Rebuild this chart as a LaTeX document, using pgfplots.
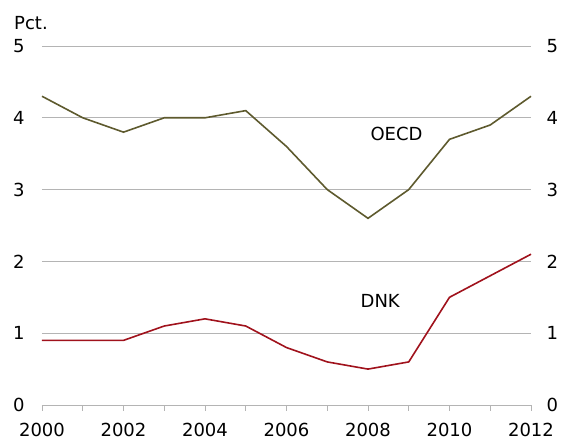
\documentclass[border=0pt]{standalone}
\usepackage{pgfplots}
\pgfplotsset{compat=1.18}
\usepackage{fontspec}
\setmainfont{DejaVu Sans}
\definecolor{oecd}{HTML}{5E5A2E}
\definecolor{dnk}{HTML}{A0121C}
\definecolor{gridc}{HTML}{B4B4B4}
\pgfplotstableread{
year oecd dnk
2000 4.3 0.9
2001 4.0 0.9
2002 3.8 0.9
2003 4.0 1.1
2004 4.0 1.2
2005 4.1 1.1
2006 3.6 0.8
2007 3.0 0.6
2008 2.6 0.5
2009 3.0 0.6
2010 3.7 1.5
2011 3.9 1.8
2012 4.3 2.1
}\data
\begin{document}
\begin{tikzpicture}
\pgfplotsset{
  base/.style={
    scale only axis, width=489pt, height=359pt,
    xmin=2000, xmax=2012, ymin=0, ymax=5,
    ytick={0,1,2,3,4,5},
    /pgf/number format/assume math mode=true,
    tick label style={font=\fontsize{18}{20}\selectfont, text=black},
    axis line style={draw=none},
  }
}
\begin{axis}[base, name=ax,
  xtick={2000,2002,...,2012},
  minor xtick={2001,2003,...,2011},
  xticklabel style={/pgf/number format/1000 sep={}},
  x tick style={draw=gridc, line width=0.8pt},
  minor x tick style={draw=gridc, line width=0.8pt},
  major tick length=6pt, minor tick length=6pt,
  xtick pos=bottom, xtick align=outside,
  ytick pos=left, y tick style={draw=none},
  yticklabel style={anchor=east, xshift=-14pt},
  xticklabel style={yshift=-9pt},
  ymajorgrids, grid style={draw=gridc, line width=0.8pt},
  clip=false,
]
\draw[gridc, line width=0.8pt] (axis cs:2000,0) -- (axis cs:2012,0);
\addplot[oecd, line width=1.6pt] table[x=year, y=oecd] {\data};
\addplot[dnk, line width=1.6pt] table[x=year, y=dnk] {\data};
\node[font=\fontsize{18}{20}\selectfont] at (axis cs:2008.7,3.77) {OECD};
\node[font=\fontsize{18}{20}\selectfont] at (axis cs:2008.3,1.45) {DNK};
\end{axis}
\begin{axis}[base,
  xtick=\empty,
  ytick pos=right, y tick style={draw=none},
  yticklabel style={anchor=west, xshift=12pt},
]
\end{axis}
\node[font=\fontsize{18}{20}\selectfont, anchor=west, inner sep=0pt] at ([xshift=-28pt, yshift=23pt]ax.north west) {Pct.};
\useasboundingbox ([xshift=-42pt,yshift=-38pt]ax.south west) rectangle ([xshift=41pt,yshift=46pt]ax.north east);
\end{tikzpicture}
\end{document}
